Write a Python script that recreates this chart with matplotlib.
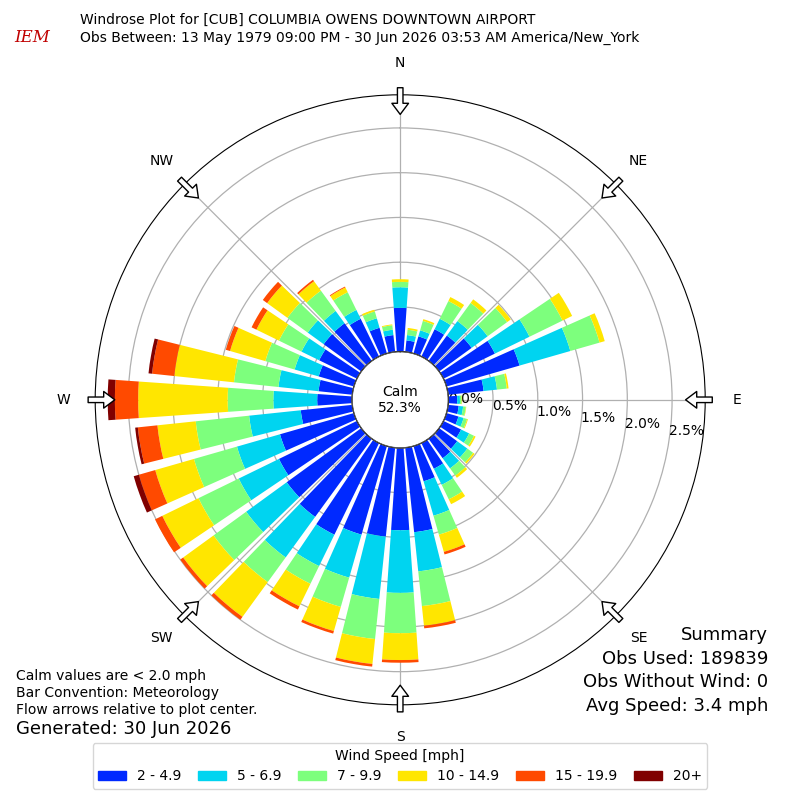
import numpy as np
import matplotlib
matplotlib.use("Agg")
import matplotlib.pyplot as plt
from matplotlib.patches import Patch

directions = list(range(0, 360, 10))
bins = ["2 - 4.9", "5 - 6.9", "7 - 9.9", "10 - 14.9", "15 - 19.9", "20+"]
colors = ["#0029ff", "#00d4f0", "#7dff7d", "#ffe600", "#ff4a00", "#800000"]
# percent per speed bin for each direction (0..350 step 10)
s2 = [.49,.13,.20,.34,.35,.45,.64,.85,.40,.10,.12,.14,.22,.25,.27,.32,.41,.95,
      .92,1.0,1.03,1.14,1.08,1.03,.97,.86,.58,.39,.38,.41,.47,.52,.52,.47,.30,.19]
s5 = [.23,.06,.07,.13,.20,.22,.43,.59,.15,.03,.05,.06,.10,.14,.14,.20,.40,.44,
      .70,.70,.50,.39,.56,.56,.50,.50,.58,.49,.45,.28,.22,.22,.17,.11,.11,.06]
s7 = [.06,.06,.11,.22,.25,.27,.41,.34,.11,.02,.03,.04,.06,.08,.10,.18,.22,.39,
      .45,.45,.34,.22,.34,.45,.50,.50,.60,.51,.50,.34,.28,.28,.28,.22,.08,.05]
s10 = [.03,.02,.02,.05,.05,.05,.12,.06,.02,.005,.005,.01,.02,.02,.03,.06,.20,.22,
       .30,.28,.28,.28,.48,.42,.45,.45,.43,1.0,.67,.41,.28,.28,.13,.06,.02,.01]
s15 = [0,0,0,0,0,0,0,0,0,0,0,0,0,0,0,0,.03,.03,
       .03,.03,.03,.04,.04,.04,.09,.19,.22,.26,.25,.05,.06,.06,.02,.01,0,0]
s20 = [0,0,0,0,0,0,0,0,0,0,0,0,0,0,0,0,0,0,
       0,0,0,0,0,0,0,.06,.03,.08,.04,0,0,0,0,0,0,0]
series = [s2, s5, s7, s10, s15, s20]

fig = plt.figure(figsize=(8, 8), dpi=100)
ax = fig.add_axes([0.119, 0.119, 0.7625, 0.7625], projection="polar")
ax.set_theta_zero_location("N")
ax.set_theta_direction(-1)
ax.set_ylim(0, 2.87)
ax.set_rorigin(-0.537)

theta = np.deg2rad(directions)
width = np.deg2rad(8)
bottom = np.zeros(len(directions))
for vals, c in zip(series, colors):
    v = np.array(vals)
    ax.bar(theta, v, width=width, bottom=bottom, color=c, edgecolor="none", zorder=2)
    bottom += v

ax.set_xticks(np.deg2rad(np.arange(0, 360, 45)))
ax.set_xticklabels([])
ax.set_yticks([0, 0.5, 1.0, 1.5, 2.0, 2.5])
ax.set_yticklabels(["0.0%", "0.5%", "1.0%", "1.5%", "2.0%", "2.5%"], fontsize=10)
ax.set_rlabel_position(98)
ax.grid(True, color="#b0b0b0", lw=0.9, zorder=1)
ax.spines["polar"].set_color("black")

# calm circle
tt = np.linspace(0, 2*np.pi, 200)
ax.fill(tt, np.zeros_like(tt), color="white", zorder=3)
ax.plot(tt, np.zeros_like(tt), color="black", lw=1, zorder=4)
ax.text(0.5, 0.5, "Calm\n52.3%", transform=ax.transAxes, ha="center", va="center",
        fontsize=10, zorder=5)

# direction labels and arrows
names = ["N", "NE", "E", "SE", "S", "SW", "W", "NW"]
for i, nm in enumerate(names):
    a = np.deg2rad(45 * i)
    ax.annotate("", xy=(a, 2.62), xytext=(a, 2.98), xycoords="data",
                arrowprops=dict(arrowstyle="simple,head_width=1.2,head_length=0.8,tail_width=0.4",
                                fc="white", ec="black", lw=1), annotation_clip=False, zorder=6)
    ax.text(a, 3.23, nm, ha="center", va="center", fontsize=10, clip_on=False)

# header
fig.text(0.1, 0.975, "Windrose Plot for [CUB] COLUMBIA OWENS DOWNTOWN AIRPORT", fontsize=10, va="center")
fig.text(0.1, 0.952, "Obs Between: 13 May 1979 09:00 PM - 30 Jun 2026 03:53 AM America/New_York",
         fontsize=10, va="center")
fig.text(0.018, 0.953, "IEM", fontsize=12, color="#c00000", style="italic", family="DejaVu Serif",
         va="center")

# bottom left
fig.text(0.02, 0.155, "Calm values are < 2.0 mph", fontsize=10, va="center")
fig.text(0.02, 0.134, "Bar Convention: Meteorology", fontsize=10, va="center")
fig.text(0.02, 0.113, "Flow arrows relative to plot center.", fontsize=10, va="center")
fig.text(0.02, 0.089, "Generated: 30 Jun 2026", fontsize=13, va="center")

# summary
fig.text(0.96, 0.206, "Summary", fontsize=13, ha="right", va="center")
fig.text(0.96, 0.176, "Obs Used: 189839", fontsize=13, ha="right", va="center")
fig.text(0.96, 0.147, "Obs Without Wind: 0", fontsize=13, ha="right", va="center")
fig.text(0.96, 0.118, "Avg Speed: 3.4 mph", fontsize=13, ha="right", va="center")

handles = [Patch(color=c, label=b) for c, b in zip(colors, bins)]
fig.legend(handles=handles, loc="lower center", bbox_to_anchor=(0.5, 0.005), ncol=6,
           title="Wind Speed [mph]", fontsize=10, title_fontsize=10,
           handlelength=2.0, handleheight=0.6, columnspacing=1.2, frameon=True)

fig.savefig("out.png", dpi=100)
